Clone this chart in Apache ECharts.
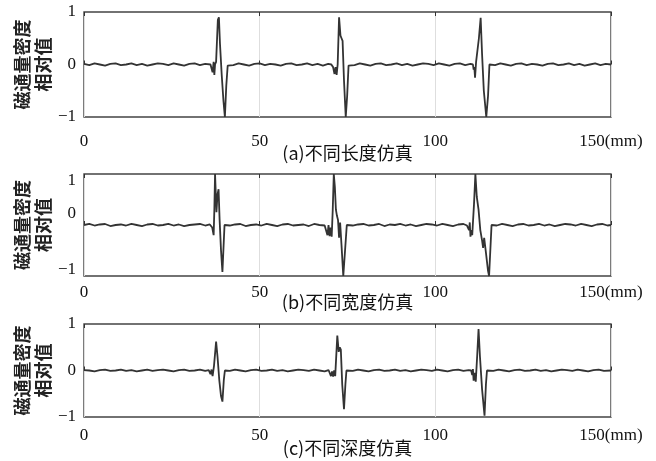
<!DOCTYPE html>
<html>
<head>
<meta charset="utf-8">
<script src="https://cdn.jsdelivr.net/npm/echarts@6/dist/echarts.min.js"></script>
<style>
  html, body { margin: 0; padding: 0; background: #fff; }
  #chart { width: 656px; height: 461px; }
</style>
</head>
<body>
<div id="chart"></div>
<script>
// 横轴刻度 (mm)
const xTicks = [0, 50, 100, 150];
const yTicks = [-1, 0, 1];
// (b) 图纵轴标注在原图中的位置（原图刻度不均匀）
const widthLabelAt = [-0.88, 0.22, 0.88];
const captions = ['(a)不同长度仿真', '(b)不同宽度仿真', '(c)不同深度仿真'];
const yName = '磁通量密度\n相对值';

// (a) 不同长度
const lengthData = [
  [0,0.01],[1.5,-0.01],[3,0.02],[4.5,0],[6,-0.02],[7.5,0.01],[9,0.02],[10.5,-0.01],[12,0],[13.5,0.02],
  [15,-0.01],[16.5,0.01],[18,-0.02],[19.5,0],[21,0.02],[22.5,0.01],[24,-0.01],[25.5,0.02],[27,0],[28.5,-0.02],
  [30,0.01],[31.5,0.02],[33,-0.01],[34.5,0.01],[36,0],
  [36.4,0],[36.6,-0.15],[36.9,0.05],[37.1,-0.2],[37.3,0],[37.6,0.05],[38.1,0.85],[38.4,0.9],[38.7,0.4],
  [39.2,-0.2],[39.7,-0.7],[40.1,-1.0],[40.5,-0.4],[40.9,-0.02],[41.2,0.01],
  [42.5,-0.01],[44,0.02],[45.5,0],[47,-0.02],[48.5,0.01],[50,0.02],[51.5,-0.01],[53,0.01],[54.5,0],[56,-0.02],
  [57.5,0.01],[59,0.02],[60.5,-0.01],[62,0],[63.5,0.02],[65,-0.01],[66.5,0.01],[68,-0.02],[69.5,0.01],
  [70.4,0],[70.9,-0.05],[71.3,-0.18],[71.6,-0.05],[71.9,-0.2],[72.2,0],[72.6,0.9],[73.0,0.55],[73.3,0.5],
  [73.6,0.45],[74.0,-0.3],[74.5,-1.0],[74.9,-0.6],[75.3,-0.02],[75.6,0.01],
  [77,-0.01],[78.5,0.02],[80,0],[81.5,-0.02],[83,0.01],[84.5,0.02],[86,-0.01],[87.5,0],[89,0.02],[90.5,-0.01],
  [92,0.01],[93.5,-0.02],[95,0],[96.5,0.02],[98,0.01],[99.5,-0.01],[101,0.02],[102.5,0],[104,-0.02],[105.5,0.01],
  [107,0.02],[108.5,-0.01],[110,0.01],
  [110.7,0],[110.9,-0.1],[111.1,-0.05],[111.3,-0.25],[111.6,0.05],[112.4,0.5],[112.9,0.89],[113.3,0.2],
  [113.8,-0.5],[114.5,-1.0],[115.0,-0.6],[115.4,0],[115.6,0.01],
  [117,-0.01],[118.5,0.02],[120,0],[121.5,-0.02],[123,0.01],[124.5,0.02],[126,-0.01],[127.5,0.01],[129,0],
  [130.5,-0.02],[132,0.01],[133.5,0.02],[135,-0.01],[136.5,0],[138,0.02],[139.5,-0.01],[141,0.01],[142.5,-0.02],
  [144,0],[145.5,0.02],[147,-0.01],[148.5,0.01],[150,0]
];

// (b) 不同宽度
const widthData = [
  [0,0],[1.5,0.02],[3,-0.01],[4.5,0.01],[6,0.02],[7.5,-0.02],[9,0],[10.5,0.01],[12,-0.01],[13.5,0.02],
  [15,0],[16.5,-0.02],[18,0.01],[19.5,0.02],[21,-0.01],[22.5,0],[24,0.02],[25.5,-0.01],[27,0.01],[28.5,-0.02],
  [30,0],[31.5,0.01],[33,0.02],[34.5,-0.01],[35.8,0.01],
  [36.1,0],[36.5,-0.05],[36.9,-0.2],[37.1,0.3],[37.3,1.0],[37.7,0.25],[38.0,0.6],[38.3,0.7],[38.6,0.1],
  [39.0,-0.5],[39.4,-0.92],[39.8,-0.3],[40.0,0],[40.3,0.02],
  [41.5,-0.01],[43,0.01],[44.5,0.02],[46,-0.02],[47.5,0],[49,0.01],[50.5,-0.01],[52,0.02],[53.5,0],[55,-0.02],
  [56.5,0.01],[58,0.02],[59.5,-0.01],[61,0],[62.5,0.01],[64,-0.02],[65.5,0.02],[67,0],[68.5,-0.01],
  [69.0,0],[69.3,-0.2],[69.6,0],[69.9,-0.22],[70.2,-0.05],[70.5,-0.23],[70.8,0.3],[71.1,1.0],[71.4,0.75],
  [71.7,0.3],[72.0,0.18],[72.3,0.1],[72.6,-0.25],[72.9,0.05],[73.3,-0.4],[73.8,-1.0],[74.2,-1.0],[74.6,-0.2],
  [74.8,0],[75.2,0.02],
  [76.5,-0.01],[78,0.01],[79.5,0.02],[81,-0.01],[82.5,0],[84,0.02],[85.5,-0.02],[87,0.01],[88.5,0],[90,0.02],
  [91.5,-0.01],[93,0.01],[94.5,-0.02],[96,0],[97.5,0.02],[99,0.01],[100.5,-0.01],[102,0.02],[103.5,0],[105,-0.02],
  [106.5,0.01],[108,0.02],[109,-0.01],
  [109.3,0],[109.6,-0.1],[109.8,0.05],[110.0,-0.23],[110.3,-0.1],[110.5,-0.2],[111.0,0.4],[111.4,1.0],
  [111.8,0.55],[112.3,0.3],[112.8,-0.1],[113.3,-0.3],[113.6,-0.45],[113.9,-0.25],[114.5,-0.6],[115.0,-0.9],
  [115.3,-1.0],[115.7,-1.0],[116.0,0],[116.3,0.01],
  [117.5,-0.01],[119,0.02],[120.5,0],[122,-0.02],[123.5,0.01],[125,0.02],[126.5,-0.01],[128,0],[129.5,0.02],
  [131,-0.01],[132.5,0.01],[134,-0.02],[135.5,0],[137,0.02],[138.5,0.01],[140,-0.01],[141.5,0.02],[143,0],
  [144.5,-0.02],[146,0.01],[147.5,0.02],[149,-0.01],[150,0]
];

// (c) 不同深度
const depthData = [
  [0,0.01],[1.5,0],[3,-0.02],[4.5,0.01],[6,0.02],[7.5,-0.01],[9,0],[10.5,0.02],[12,-0.01],[13.5,0.01],
  [15,-0.02],[16.5,0],[18,0.02],[19.5,-0.01],[21,0.01],[22.5,0.02],[24,0],[25.5,-0.02],[27,0.01],[28.5,0.02],
  [30,-0.01],[31.5,0],[33,0.02],[34.5,-0.01],[35.5,0.01],
  [35.7,0],[36.0,-0.08],[36.3,0.02],[36.6,-0.12],[37.0,0.1],[37.6,0.62],[38.0,0.3],[38.5,-0.2],[39.0,-0.55],
  [39.4,-0.67],[39.8,-0.2],[40.1,0],[40.4,0.01],
  [41.5,-0.01],[43,0.02],[44.5,0],[46,-0.02],[47.5,0.01],[49,0.02],[50.5,-0.01],[52,0],[53.5,0.02],[55,-0.01],
  [56.5,0.01],[58,-0.02],[59.5,0],[61,0.02],[62.5,0.01],[64,-0.01],[65.5,0.02],[67,0],[68.5,-0.02],[69.6,0.01],
  [69.9,0],[70.3,-0.12],[70.6,-0.02],[70.9,-0.13],[71.2,0.0],[71.5,-0.12],[72.1,0.75],[72.5,0.4],[72.8,0.5],
  [73.1,0.45],[73.5,-0.3],[74.0,-0.83],[74.4,-0.3],[74.7,0],[75.0,0.01],
  [76.5,-0.01],[78,0.02],[79.5,0],[81,-0.02],[82.5,0.01],[84,0.02],[85.5,-0.01],[87,0],[88.5,0.02],[90,-0.01],
  [91.5,0.01],[93,-0.02],[94.5,0],[96,0.02],[97.5,0.01],[99,-0.01],[100.5,0.02],[102,0],[103.5,-0.02],[105,0.01],
  [106.5,0.02],[108,-0.01],[109.5,0.01],
  [110.2,0],[110.5,-0.1],[110.7,0.03],[110.9,-0.22],[111.2,-0.05],[111.5,-0.24],[111.9,0.3],[112.3,0.89],
  [112.7,0.3],[113.3,-0.4],[114.0,-0.97],[114.4,-0.3],[114.7,0],[115.0,0.01],
  [116.5,-0.01],[118,0.02],[119.5,0],[121,-0.02],[122.5,0.01],[124,0.02],[125.5,-0.01],[127,0],[128.5,0.02],
  [130,-0.01],[131.5,0.01],[133,-0.02],[134.5,0],[136,0.02],[137.5,0.01],[139,-0.01],[140.5,0.02],[142,0],
  [143.5,-0.02],[145,0.01],[146.5,0.02],[148,-0.01],[150,0]
];

const panels = [lengthData, widthData, depthData];
const gridTops = [12, 174, 324];
const gridHeights = [105, 102, 93];
const labelMargins = [16, 8, 10];
const captionGaps = [27, 17, 22];

const numFont = 'Liberation Serif';
const cjkFont = 'Noto Sans CJK SC';

let chart = echarts.init(document.getElementById('chart'));

function yLabel(v) {
    if (v > 0.5) return '1';
    if (v < -0.5) return '\u22121';
    return '0';
}

let grids = [], xAxes = [], yAxes = [], series = [];
panels.forEach(function (data, i) {
    grids.push({
        left: 84, right: 45, top: gridTops[i], height: gridHeights[i],
        show: true, borderColor: '#444', borderWidth: 1.4, backgroundColor: 'transparent'
    });
    // 下方 x 轴
    xAxes.push({
        type: 'value', gridIndex: i, min: xTicks[0], max: xTicks[xTicks.length - 1], interval: 50,
        name: captions[i], nameLocation: 'middle', nameGap: captionGaps[i], nameMoveOverlap: false,
        nameTextStyle: {fontFamily: cjkFont, fontSize: 18, color: '#111'},
        axisLine: {show: false},
        axisTick: {show: true, inside: true, length: 4, lineStyle: {color: '#333'}},
        splitLine: {show: true, lineStyle: {color: '#dedede', width: 1}},
        axisLabel: {
            fontFamily: numFont, fontSize: 17, color: '#111', margin: labelMargins[i],
            formatter: function (v) { return v === 150 ? '150(mm)' : String(v); }
        }
    });
    // 上方 x 轴（仅刻度）
    xAxes.push({
        type: 'value', gridIndex: i, position: 'top', min: 0, max: 150, interval: 50,
        axisLine: {show: false}, axisLabel: {show: false}, splitLine: {show: false},
        axisTick: {show: true, inside: true, length: 4, lineStyle: {color: '#333'}}
    });
    let yAxis = {
        type: 'value', gridIndex: i, min: yTicks[0], max: yTicks[2], interval: 1,
        name: yName, nameLocation: 'middle', nameGap: 30, nameRotate: 90, nameMoveOverlap: false,
        nameTextStyle: {fontFamily: cjkFont, fontSize: 18, fontWeight: 'bold', color: '#222', lineHeight: 21},
        axisLine: {show: false}, axisTick: {show: false}, splitLine: {show: false},
        axisLabel: {fontFamily: numFont, fontSize: 17, color: '#111', margin: 8, formatter: yLabel}
    };
    if (i === 1) {
        yAxis.axisLabel.customValues = widthLabelAt;
    }
    yAxes.push(yAxis);
    series.push({
        type: 'line', xAxisIndex: i * 2, yAxisIndex: i, data: data,
        showSymbol: false, smooth: false, clip: true,
        lineStyle: {color: '#333', width: 1.8}
    });
});

chart.setOption({
    animation: false,
    backgroundColor: '#fff',
    grid: grids,
    xAxis: xAxes,
    yAxis: yAxes,
    series: series
});
</script>
</body>
</html>
